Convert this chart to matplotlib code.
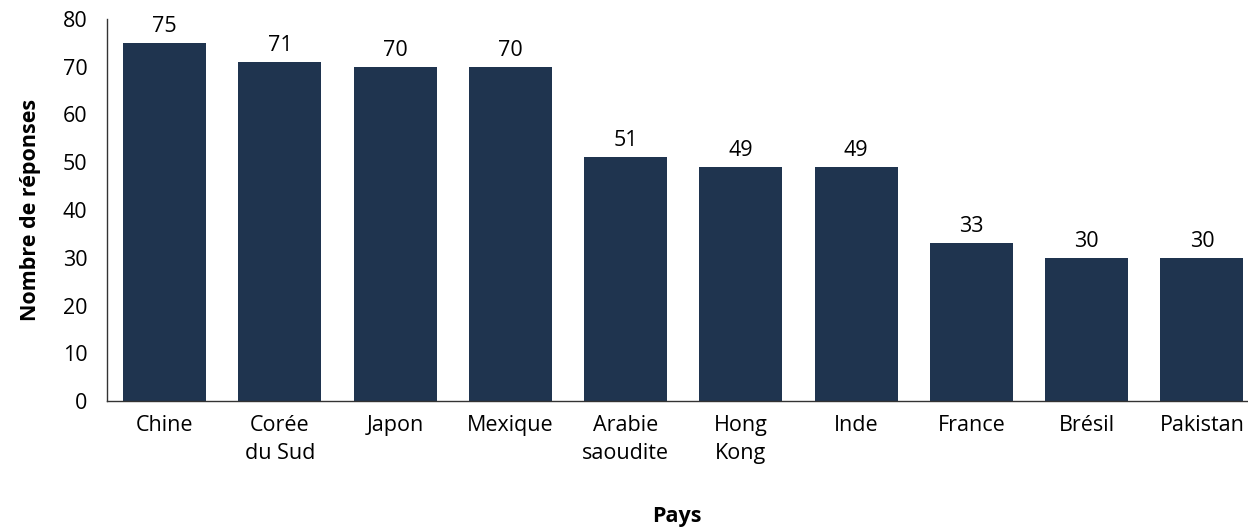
import matplotlib
matplotlib.use("Agg")
import matplotlib.pyplot as plt

# Responses per country
pays = ["Chine", "Corée\ndu Sud", "Japon", "Mexique", "Arabie\nsaoudite",
        "Hong\nKong", "Inde", "France", "Brésil", "Pakistan"]
reponses = [75, 71, 70, 70, 51, 49, 49, 33, 30, 30]
yticks = [0, 10, 20, 30, 40, 50, 60, 70, 80]

plt.rcParams['font.family'] = ['Open Sans', 'DejaVu Sans']

fig = plt.figure(figsize=(12.48, 5.27), dpi=100)
ax = fig.add_axes([0.0857, 0.239, 0.9143, 0.725])

x = list(range(len(pays)))
bars = ax.bar(x, reponses, width=0.72, color="#1F344F")
for xi, v in zip(x, reponses):
    ax.text(xi, v + 1.3, str(v), ha="center", va="bottom", fontsize=15.5)

ax.set_xlim(-0.5, 9.4)
ax.set_ylim(0, 80)
ax.set_yticks(yticks)
ax.set_xticks(x)
ax.set_xticklabels(pays, fontsize=15.5, linespacing=1.45)
ax.tick_params(axis="y", labelsize=15.5, length=0, pad=14)
ax.tick_params(axis="x", length=0, pad=10)

for s in ["top", "right"]:
    ax.spines[s].set_visible(False)
for s in ["left", "bottom"]:
    ax.spines[s].set_color("#333333")
    ax.spines[s].set_linewidth(1)

ax.set_ylabel("Nombre de réponses", fontsize=15.5, fontweight="bold", labelpad=16)
fig.text(0.5425, 0.0, "Pays", ha="center", va="bottom", fontsize=15.5, fontweight="bold")

fig.savefig("out.png", dpi=100)
